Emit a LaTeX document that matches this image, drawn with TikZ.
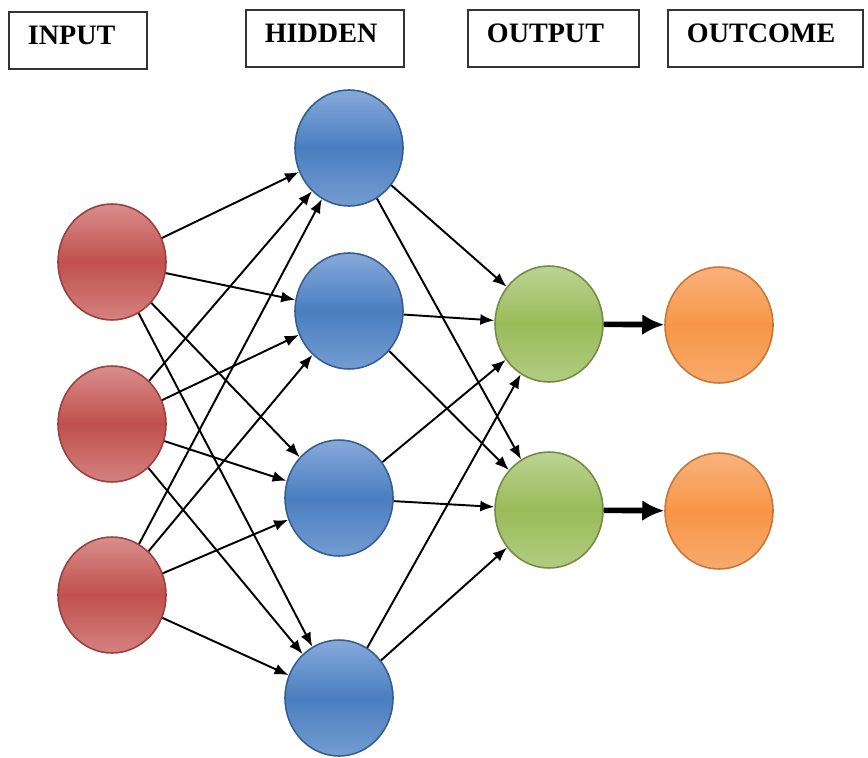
\documentclass[tikz,border=0pt]{standalone}
\usepackage{fontspec}
\setmainfont{Liberation Serif}
\usetikzlibrary{arrows.meta, shapes.geometric}
\definecolor{RedMid}{HTML}{C0504D}
\definecolor{RedTop}{HTML}{D98E8C}
\definecolor{BlueMid}{HTML}{4A7EC0}
\definecolor{BlueTop}{HTML}{86A9DA}
\definecolor{GreenMid}{HTML}{9BBB59}
\definecolor{GreenTop}{HTML}{BBD393}
\definecolor{OrangeMid}{HTML}{F79646}
\definecolor{OrangeTop}{HTML}{F9B27E}
\tikzset{
    layerbox/.style={rectangle, draw=black!80, fill=white, line width=1pt, anchor=north west, align=left, inner xsep=0.38cm, inner ysep=0pt, text height=0.66cm, text depth=0.48cm, font=\fontsize{16}{19}\selectfont\bfseries},
    neuron/.style={ellipse, minimum width=2.16cm, minimum height=2.32cm, line width=0.9pt},
    inneuron/.style={neuron, draw=RedMid!80!black, top color=RedTop, bottom color=RedTop!80!RedMid, middle color=RedMid},
    hidneuron/.style={neuron, draw=BlueMid!75!black, top color=BlueTop, bottom color=BlueTop!70!BlueMid, middle color=BlueMid},
    outneuron/.style={neuron, draw=GreenMid!75!black, top color=GreenTop, bottom color=GreenTop!70!GreenMid, middle color=GreenMid},
    resneuron/.style={neuron, draw=OrangeMid!80!black, top color=OrangeTop, bottom color=OrangeTop!70!OrangeMid, middle color=OrangeMid},
    netarrow/.style={-{Latex[length=2.8mm, width=2.2mm]}, draw=black, line width=1.1pt},
    bigarrow/.style={-{Latex[length=4.4mm, width=4.2mm]}, draw=black, line width=3.2pt}
}
\begin{document}
\begin{tikzpicture}[x=0.02cm, y=-0.02cm]
    \useasboundingbox (0,0) rectangle (868,757);
    % Layer titles
    \node[layerbox, text width=2.0cm] (tin) at (8,11) {INPUT};
    \node[layerbox, text width=2.4cm] (thid) at (245,9) {HIDDEN};
    \node[layerbox, text width=2.66cm] (tout) at (467,9) {OUTPUT};
    \node[layerbox, text width=3.14cm] (tres) at (667,9) {OUTCOME};

    % Nodes
    \node[inneuron] (in1) at (112,262) {};
    \node[inneuron] (in2) at (112,424) {};
    \node[inneuron] (in3) at (112,595) {};
    \node[hidneuron] (hid1) at (349,148) {};
    \node[hidneuron] (hid2) at (349,311) {};
    \node[hidneuron] (hid3) at (339,498) {};
    \node[hidneuron] (hid4) at (339,698) {};
    \node[outneuron] (out1) at (549,324) {};
    \node[outneuron] (out2) at (549,510) {};
    \node[resneuron] (res1) at (719,325) {};
    \node[resneuron] (res2) at (719,511) {};

    % Paths
    \draw[netarrow] (in1) -- (hid1); \draw[netarrow] (in1) -- (hid2); \draw[netarrow] (in1) -- (hid3); \draw[netarrow] (in1) -- (hid4);
    \draw[netarrow] (in2) -- (hid1); \draw[netarrow] (in2) -- (hid2); \draw[netarrow] (in2) -- (hid3); \draw[netarrow] (in2) -- (hid4);
    \draw[netarrow] (in3) -- (hid1); \draw[netarrow] (in3) -- (hid2); \draw[netarrow] (in3) -- (hid3); \draw[netarrow] (in3) -- (hid4);
    \draw[netarrow] (hid1) -- (out1); \draw[netarrow] (hid1) -- (out2);
    \draw[netarrow] (hid2) -- (out1); \draw[netarrow] (hid2) -- (out2);
    \draw[netarrow] (hid3) -- (out1); \draw[netarrow] (hid3) -- (out2);
    \draw[netarrow] (hid4) -- (out1); \draw[netarrow] (hid4) -- (out2);
    \draw[bigarrow] (out1) -- (res1);
    \draw[bigarrow] (out2) -- (res2);
\end{tikzpicture}
\end{document}
